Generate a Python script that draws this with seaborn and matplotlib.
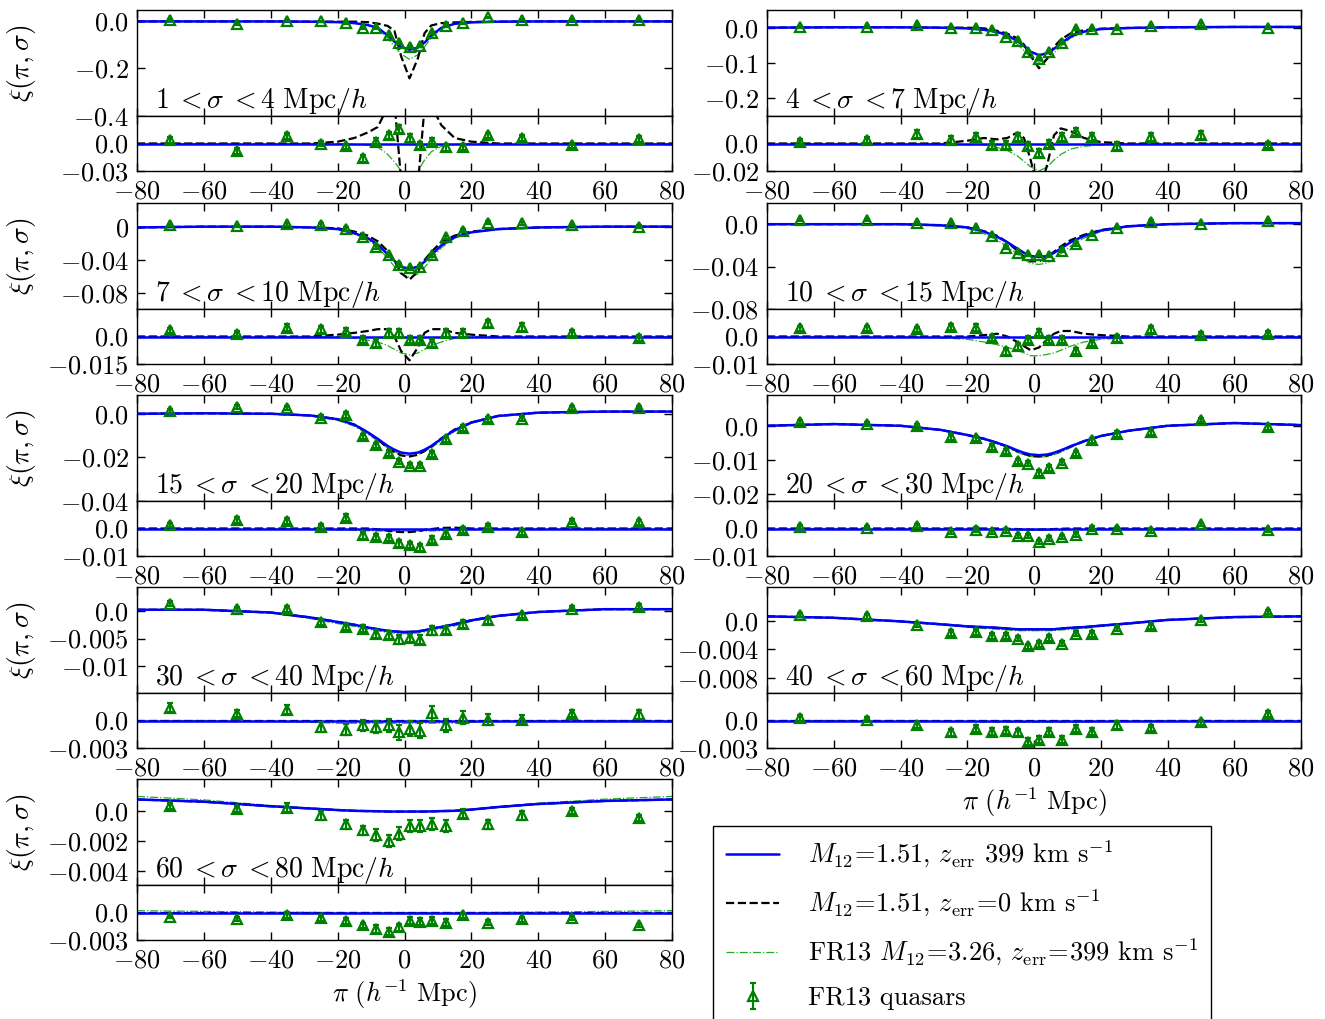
import numpy as np
import matplotlib
matplotlib.use("Agg")
import matplotlib.pyplot as plt
import seaborn as sns
from matplotlib.lines import Line2D

gx = [-80, -60, -40, -28, -20, -15, -11, -8, -5, -3, -1, 1.5, 4, 6, 8, 11, 15, 20, 28, 40, 60, 80]
# pi of the FR13 quasar points
pi_data = [-70, -50, -35, -25, -17.5, -12.5, -8.5, -4.75, -1.75, 1.5, 4.5, 8.25, 12.5, 17.5, 25, 35, 50, 70]
xticks = [-80, -60, -40, -20, 0, 20, 40, 60, 80]
xticklabels = ["-80", "-60", "-40", "-20", "0", "20", "40", "60", "80"]

# --- 1 < sigma < 4
blue_s1 = [-0.003, -0.003, -0.003, -0.004, -0.006, -0.010, -0.018, -0.030, -0.062, -0.088, -0.110, -0.122,
           -0.113, -0.092, -0.062, -0.030, -0.013, -0.007, -0.004, -0.003, -0.003, -0.003]
dres_s1 = [0, 0, 0, 0, 0.002, 0.006, 0.012, 0.018, 0.040, 0.045, -0.040, -0.120,
           -0.045, 0.040, 0.042, 0.020, 0.006, 0.002, 0, 0, 0, 0]
fres_s1 = [0, 0, 0, 0, 0, -0.001, -0.002, -0.004, -0.012, -0.020, -0.030, -0.040,
           -0.030, -0.018, -0.009, -0.003, -0.001, 0, 0, 0, 0, 0]
qso_s1 = [0.003, -0.014, 0.0, -0.003, -0.011, -0.032, -0.030, -0.060, -0.094, -0.112, -0.108, -0.052,
          -0.022, -0.011, 0.014, 0.005, 0.003, 0.005]
qres_s1 = [0.004, -0.008, 0.008, 0.0, -0.003, -0.016, 0.002, 0.009, 0.016, 0.006, -0.002, 0.002,
           -0.004, -0.004, 0.009, 0.006, -0.002, 0.005]
err_s1 = [0.003, 0.003, 0.003, 0.003, 0.003, 0.004, 0.004, 0.004, 0.004, 0.004, 0.004, 0.004,
          0.004, 0.003, 0.003, 0.003, 0.003, 0.003]

# --- 4 < sigma < 7
blue_s2 = [0.0, 0.001, 0.001, 0.0, -0.002, -0.006, -0.012, -0.021, -0.038, -0.052, -0.068, -0.078,
           -0.072, -0.060, -0.045, -0.025, -0.011, -0.004, -0.001, 0.001, 0.002, 0.002]
dres_s2 = [0, 0, 0, 0, 0.002, 0.004, 0.003, 0.004, 0.008, 0.004, -0.012, -0.037,
           -0.015, 0.006, 0.011, 0.009, 0.004, 0.001, 0, 0, 0, 0]
fres_s2 = [0, 0, 0, 0, -0.001, -0.001, -0.003, -0.005, -0.009, -0.013, -0.017, -0.020,
           -0.017, -0.012, -0.008, -0.004, -0.002, -0.001, 0, 0, 0, 0]
qso_s2 = [0.002, 0.002, 0.007, 0.0, -0.002, -0.007, -0.026, -0.037, -0.069, -0.088, -0.069, -0.044,
          -0.005, -0.005, -0.005, 0.005, 0.009, -0.002]
qres_s2 = [0.001, 0.0025, 0.007, 0.0025, 0.005, -0.001, -0.001, 0.005, -0.002, -0.007, -0.0005, 0.005,
           0.0085, 0.005, -0.002, 0.005, 0.006, -0.001]
err_s2 = [0.002, 0.002, 0.003, 0.003, 0.003, 0.003, 0.003, 0.003, 0.003, 0.003, 0.003, 0.003,
          0.003, 0.003, 0.003, 0.003, 0.003, 0.002]

# --- 7 < sigma < 10
blue_s3 = [0.0, 0.001, 0.001, 0.0, -0.002, -0.007, -0.013, -0.021, -0.033, -0.041, -0.048, -0.051,
           -0.048, -0.042, -0.034, -0.022, -0.012, -0.006, -0.002, 0.0, 0.001, 0.001]
dres_s3 = [0, 0, 0, 0, 0.001, 0.002, 0.003, 0.004, 0.004, 0.0, -0.008, -0.013,
           -0.006, 0.002, 0.004, 0.004, 0.002, 0.001, 0, 0, 0, 0]
fres_s3 = [0, 0, 0, 0, 0, -0.001, -0.002, -0.003, -0.005, -0.007, -0.009, -0.010,
           -0.009, -0.007, -0.005, -0.003, -0.001, 0, 0, 0, 0, 0]
qso_s3 = [0.003, 0.002, 0.004, 0.003, -0.002, -0.012, -0.024, -0.034, -0.046, -0.050, -0.048, -0.034,
          -0.012, -0.004, 0.006, 0.005, 0.003, 0.001]
qres_s3 = [0.0033, 0.0015, 0.0048, 0.0039, 0.0026, -0.0017, -0.0035, 0.002, 0.002, -0.0017, -0.0017, -0.0035,
           0.002, 0.002, 0.0072, 0.0052, 0.002, -0.0007]
err_s3 = [0.0015, 0.0015, 0.002, 0.002, 0.002, 0.002, 0.002, 0.002, 0.002, 0.002, 0.002, 0.002,
          0.002, 0.002, 0.002, 0.002, 0.0015, 0.0015]

# --- 10 < sigma < 15
blue_s4 = [0.0, 0.0, 0.0, -0.001, -0.003, -0.007, -0.012, -0.017, -0.023, -0.027, -0.030, -0.031,
           -0.030, -0.027, -0.023, -0.017, -0.011, -0.006, -0.002, 0.0, 0.001, 0.001]
dres_s4 = [0, 0, 0, 0, 0, 0.0005, 0.001, 0.0, -0.002, -0.0035, -0.005, -0.004,
           -0.001, 0.001, 0.002, 0.002, 0.001, 0.0005, 0, 0, 0, 0]
fres_s4 = [0, 0, 0, -0.0005, -0.001, -0.002, -0.003, -0.004, -0.005, -0.006, -0.007, -0.007,
           -0.0065, -0.006, -0.005, -0.0035, -0.002, -0.001, -0.0005, 0, 0, 0]
qso_s4 = [0.004, 0.004, 0.001, 0.001, -0.0037, -0.011, -0.022, -0.027, -0.029, -0.029, -0.030, -0.025,
          -0.019, -0.010, -0.0037, 0.0025, 0.0003, 0.003]
qres_s4 = [0.003, 0.003, 0.0026, 0.0035, 0.0032, -0.0005, -0.0054, -0.0036, -0.0011, 0.0014, -0.0011, -0.0011,
           -0.0052, -0.0023, -0.0007, 0.0026, 0.0005, 0.001]
err_s4 = [0.001, 0.001, 0.001, 0.0012, 0.0012, 0.0012, 0.0012, 0.0012, 0.0012, 0.0012, 0.0012, 0.0012,
          0.0012, 0.0012, 0.0012, 0.0012, 0.001, 0.001]

# --- 15 < sigma < 20
blue_s5 = [0.0, 0.0002, 0.0, -0.0008, -0.0025, -0.005, -0.0085, -0.0115, -0.0148, -0.0165, -0.0178, -0.0183,
           -0.0178, -0.0165, -0.0148, -0.0115, -0.0075, -0.004, -0.001, 0.0005, 0.001, 0.001]
dres_s5 = [0, 0, 0, 0, 0, 0, 0, -0.0003, -0.0008, -0.0011, -0.0013, -0.0013,
           -0.001, -0.0005, -0.0002, 0.0002, 0.0003, 0, 0, 0, 0, 0]
fres_s5 = [0, 0, 0, -0.0002, -0.0005, -0.0007, -0.0008, -0.0009, -0.0009, -0.0009, -0.0009, -0.0009,
           -0.0009, -0.0009, -0.0009, -0.0008, -0.0006, -0.0004, -0.0002, 0, 0, 0]
qso_s5 = [0.0012, 0.0031, 0.0025, -0.0018, -0.0006, -0.0103, -0.0145, -0.018, -0.022, -0.0238, -0.0238, -0.0185,
          -0.0118, -0.0065, -0.0026, -0.0022, 0.0025, 0.0028]
qres_s5 = [0.0012, 0.0031, 0.0027, 0.0006, 0.004, -0.0025, -0.0031, -0.0035, -0.0054, -0.006, -0.0069, -0.004,
           -0.0019, -0.0006, 0.0006, -0.0012, 0.0025, 0.0022]
err_s5 = [0.0008, 0.001, 0.001, 0.0012, 0.0012, 0.0012, 0.0012, 0.0012, 0.0012, 0.0012, 0.0012, 0.0012,
          0.0012, 0.0012, 0.0012, 0.001, 0.001, 0.0008]

# --- 20 < sigma < 30
blue_s6 = [0.0, 0.0005, 0.0, -0.0012, -0.0027, -0.0038, -0.005, -0.006, -0.0072, -0.0079, -0.0084, -0.0086,
           -0.0084, -0.0079, -0.0072, -0.006, -0.0045, -0.003, -0.0015, 0.0, 0.0008, 0.0002]
dres_s6 = [0, 0, 0, 0, 0, 0, 0, -0.0001, -0.0002, -0.0003, -0.0004, -0.0004,
           -0.0003, -0.0002, -0.0001, 0, 0, 0, 0, 0, 0, 0]
fres_s6 = [0, 0, 0, 0, -0.0001, -0.0002, -0.0003, -0.0004, -0.0006, -0.0006, -0.0006, -0.0006,
           -0.0006, -0.0006, -0.0006, -0.0004, -0.0002, -0.0001, 0, 0, 0, 0]
qso_s6 = [0.001, 0.0005, -0.0002, -0.0033, -0.0037, -0.0062, -0.0075, -0.0104, -0.0111, -0.0138, -0.0123, -0.0108,
          -0.0081, -0.0043, -0.0024, -0.0019, 0.0017, -0.0005]
qres_s6 = [0.0006, 0.0003, 0.001, -0.0012, -0.0004, -0.0012, -0.0009, -0.0028, -0.0028, -0.005, -0.0037, -0.0031,
           -0.0022, 0.0, -0.0002, -0.001, 0.0015, -0.0007]
err_s6 = [0.0006, 0.0006, 0.0007, 0.0008, 0.0008, 0.0008, 0.0008, 0.0008, 0.0008, 0.0008, 0.0008, 0.0008,
          0.0008, 0.0008, 0.0008, 0.0007, 0.0006, 0.0006]

# --- 30 < sigma < 40
blue_s7 = [0.0002, 0.0002, -0.0003, -0.0012, -0.002, -0.0025, -0.003, -0.0033, -0.0036, -0.0037, -0.0038, -0.0038,
           -0.0037, -0.0035, -0.0032, -0.0029, -0.0024, -0.0017, -0.0009, -0.0002, 0.0003, 0.0003]
dres_s7 = [0, 0, 0, 0, 0, 0, 0, 0, 0, 0, 0, 0, 0, 0, 0, 0, 0, 0, 0, 0, 0, 0]
fres_s7 = [0, 0, -0.0001, -0.0002, -0.0003, -0.0003, -0.0003, -0.0003, -0.0003, -0.0003, -0.0003, -0.0003,
           -0.0003, -0.0003, -0.0003, -0.0003, -0.0003, -0.0002, -0.0001, 0, 0, 0]
qso_s7 = [0.0013, 0.0003, 0.0003, -0.002, -0.0029, -0.0032, -0.0042, -0.0043, -0.0051, -0.0049, -0.0052, -0.0035,
          -0.0035, -0.0024, -0.0017, -0.0008, 0.0004, 0.0007]
qres_s7 = [0.0014, 0.00075, 0.0012, -0.0007, -0.001, -0.0005, -0.0007, -0.0005, -0.0013, -0.0009, -0.0011, 0.0008,
           -0.0005, 0.0003, 0.0001, 0.0001, 0.00075, 0.0007]
err_s7 = [0.0005, 0.0004, 0.0005, 0.0005, 0.0006, 0.0006, 0.0007, 0.0007, 0.0008, 0.0008, 0.0008, 0.0008,
          0.0007, 0.0007, 0.0006, 0.0005, 0.0004, 0.0005]

# --- 40 < sigma < 60
blue_s8 = [0.0006, 0.0004, -0.0001, -0.0005, -0.0008, -0.0009, -0.001, -0.0011, -0.0012, -0.0012, -0.0012, -0.0012,
           -0.0012, -0.0012, -0.0011, -0.001, -0.0009, -0.0007, -0.0004, 0.0001, 0.0005, 0.0006]
dres_s8 = [0, 0, 0, 0, 0, 0, 0, 0, 0, 0, 0, 0, 0, 0, 0, 0, 0, 0, 0, 0, 0, 0]
fres_s8 = [0, 0, 0, -0.0001, -0.0001, -0.0002, -0.0002, -0.0002, -0.0002, -0.0002, -0.0002, -0.0002,
           -0.0002, -0.0002, -0.0002, -0.0002, -0.0002, -0.0001, -0.0001, 0, 0, 0]
qso_s8 = [0.0008, 0.0006, -0.0006, -0.0017, -0.0016, -0.0021, -0.0021, -0.0025, -0.0036, -0.0033, -0.0024, -0.0032,
          -0.0018, -0.0019, -0.0011, -0.0008, 0.0001, 0.0012]
qres_s8 = [0.0003, 0.0001, -0.0005, -0.0013, -0.0009, -0.0012, -0.0011, -0.0013, -0.0023, -0.0021, -0.0012, -0.0021,
           -0.0009, -0.0012, -0.0005, -0.0008, -0.0002, 0.0007]
err_s8 = [0.0003, 0.0003, 0.0003, 0.0004, 0.0004, 0.0004, 0.0004, 0.0004, 0.0004, 0.0004, 0.0004, 0.0004,
          0.0004, 0.0004, 0.0004, 0.0003, 0.0003, 0.0003]

# --- 60 < sigma < 80
blue_s9 = [0.00075, 0.0006, 0.0003, 0.00015, 0.00005, 0.0, -0.00002, -0.00003, -0.00005, -0.00005, -0.00005, -0.00005,
           -0.00005, -0.00005, -0.00004, -0.00002, 0.0, 0.00008, 0.00025, 0.00045, 0.00065, 0.00075]
dres_s9 = [0, 0, 0, 0, 0, 0, 0, 0, 0, 0, 0, 0, 0, 0, 0, 0, 0, 0, 0, 0, 0, 0]
fres_s9 = [0.0002, 0.00012, 0.00005, 0.00002, 0, 0, 0, 0, 0, 0, 0, 0,
           0, 0, 0, 0, 0, 0, 0.00002, 0.00005, 0.00012, 0.0002]
qso_s9 = [0.0003, 0.0001, 0.0002, -0.0003, -0.0009, -0.0013, -0.0016, -0.002, -0.0015, -0.001, -0.001, -0.0009,
          -0.001, -0.0002, -0.0009, -0.0003, 0.0, -0.0005]
qres_s9 = [-0.00045, -0.0007, -0.00026, -0.0006, -0.0009, -0.0014, -0.0018, -0.0021, -0.0016, -0.0009, -0.001, -0.0009,
           -0.0011, -0.0003, -0.0011, -0.00075, -0.0006, -0.0014]
err_s9 = [0.0002, 0.0002, 0.0003, 0.0003, 0.0003, 0.0003, 0.0004, 0.0004, 0.0004, 0.0004, 0.0004, 0.0004,
          0.0004, 0.0003, 0.0003, 0.0003, 0.0002, 0.0002]

# panel labels and axis ranges / ticks
bin_labels = [r"$1\;{<}\sigma\;{<}4\ \mathrm{Mpc}/h$", r"$4\;{<}\sigma\;{<}7\ \mathrm{Mpc}/h$",
              r"$7\;{<}\sigma\;{<}10\ \mathrm{Mpc}/h$", r"$10\;{<}\sigma\;{<}15\ \mathrm{Mpc}/h$",
              r"$15\;{<}\sigma\;{<}20\ \mathrm{Mpc}/h$", r"$20\;{<}\sigma\;{<}30\ \mathrm{Mpc}/h$",
              r"$30\;{<}\sigma\;{<}40\ \mathrm{Mpc}/h$", r"$40\;{<}\sigma\;{<}60\ \mathrm{Mpc}/h$",
              r"$60\;{<}\sigma\;{<}80\ \mathrm{Mpc}/h$"]
main_ylims = [(-0.4, 0.045), (-0.25, 0.05), (-0.1, 0.03), (-0.08, 0.02), (-0.04, 0.0086),
              (-0.022, 0.009), (-0.0148, 0.0043), (-0.0101, 0.0047), (-0.0049, 0.0021)]
main_yticks = [[0.0, -0.2, -0.4], [0.0, -0.1, -0.2], [0.0, -0.04, -0.08], [0.0, -0.04, -0.08], [0.0, -0.02, -0.04],
               [0.0, -0.01, -0.02], [0.0, -0.005, -0.01], [0.0, -0.004, -0.008], [0.0, -0.002, -0.004]]
main_yticklabels = [["0.0", "-0.2", "-0.4"], ["0.0", "-0.1", "-0.2"], ["0", "-0.04", "-0.08"],
                    ["0.0", "-0.04", "-0.08"], ["0.0", "-0.02", "-0.04"], ["0.0", "-0.01", "-0.02"],
                    ["0.0", "-0.005", "-0.01"], ["0.0", "-0.004", "-0.008"], ["0.0", "-0.002", "-0.004"]]
res_lims = [0.03, 0.02, 0.015, 0.01, 0.01, 0.01, 0.003, 0.003, 0.003]
res_ticklabels = [["0.0", "-0.03"], ["0.0", "-0.02"], ["0.0", "-0.015"], ["0.0", "-0.01"], ["0.0", "-0.01"],
                  ["0.0", "-0.01"], ["0.0", "-0.003"], ["0.0", "-0.003"], ["0.0", "-0.003"]]

blues = [blue_s1, blue_s2, blue_s3, blue_s4, blue_s5, blue_s6, blue_s7, blue_s8, blue_s9]
dress = [dres_s1, dres_s2, dres_s3, dres_s4, dres_s5, dres_s6, dres_s7, dres_s8, dres_s9]
fress = [fres_s1, fres_s2, fres_s3, fres_s4, fres_s5, fres_s6, fres_s7, fres_s8, fres_s9]
qsos = [qso_s1, qso_s2, qso_s3, qso_s4, qso_s5, qso_s6, qso_s7, qso_s8, qso_s9]
qress = [qres_s1, qres_s2, qres_s3, qres_s4, qres_s5, qres_s6, qres_s7, qres_s8, qres_s9]
errs = [err_s1, err_s2, err_s3, err_s4, err_s5, err_s6, err_s7, err_s8, err_s9]

sns.set_style("ticks")
plt.rcParams["font.family"] = ["cmr10", "DejaVu Serif"]
plt.rcParams["mathtext.fontset"] = "cm"
plt.rcParams["axes.formatter.use_mathtext"] = True
plt.rcParams["axes.edgecolor"] = "black"
plt.rcParams["text.color"] = "black"
plt.rcParams["axes.labelcolor"] = "black"
plt.rcParams["xtick.color"] = "black"
plt.rcParams["ytick.color"] = "black"

GREEN = "#008000"
FS = 19

W, H = 1325, 1019
fig = plt.figure(figsize=(W / 100, H / 100), dpi=100)

col_x = [137, 767]
col_w = [535, 534]
row_top = [10, 203, 395, 587, 779]


def mtx(s):
    return "$" + s + "$"


errcont = None
for i in range(9):
    col = i % 2
    row = i // 2
    x0 = col_x[col] / W
    w = col_w[col] / W
    top = row_top[row]
    ax = fig.add_axes([x0, 1 - (top + 106) / H, w, 106 / H])
    rx = fig.add_axes([x0, 1 - (top + 161) / H, w, 55 / H])

    blue = np.array(blues[i])
    dres = np.array(dress[i])
    fres = np.array(fress[i])

    # main panel
    sns.lineplot(x=gx, y=blue + fres, ax=ax, color="#22aa22", lw=0.9, linestyle="-.", sort=False, estimator=None)
    sns.lineplot(x=gx, y=blue + dres, ax=ax, color="black", lw=1.6, linestyle="--", sort=False, estimator=None)
    sns.lineplot(x=gx, y=blue, ax=ax, color="#0000ff", lw=1.8, sort=False, estimator=None)
    errcont = ax.errorbar(pi_data, qsos[i], yerr=errs[i], fmt="^", mfc="none", mec=GREEN, ecolor=GREEN,
                          ms=7, mew=1.6, elinewidth=1.5, capsize=2.5, capthick=1.5, zorder=5)

    # residual panel
    sns.lineplot(x=gx, y=fres, ax=rx, color="#22aa22", lw=0.9, linestyle="-.", sort=False, estimator=None)
    sns.lineplot(x=gx, y=dres, ax=rx, color="black", lw=1.6, linestyle="--", sort=False, estimator=None)
    sns.lineplot(x=gx, y=blue - blue, ax=rx, color="#0000ff", lw=1.8, sort=False, estimator=None)
    rx.errorbar(pi_data, qress[i], yerr=errs[i], fmt="^", mfc="none", mec=GREEN, ecolor=GREEN,
                ms=7, mew=1.6, elinewidth=1.5, capsize=2.5, capthick=1.5, zorder=5)

    for a in (ax, rx):
        a.set_xlim(-80, 80)
        a.set_xticks(xticks)
        a.tick_params(direction="in", top=True, right=True, length=6, width=1, labelsize=FS, pad=6)
        a.set_xlabel("")
        a.set_ylabel("")
        for s in a.spines.values():
            s.set_linewidth(1.0)
    ax.tick_params(labelbottom=False)
    rx.set_xticklabels([mtx(t) for t in xticklabels])

    ax.set_ylim(*main_ylims[i])
    ax.set_yticks(main_yticks[i])
    ax.set_yticklabels([mtx(t) for t in main_yticklabels[i]])
    rl = res_lims[i]
    rx.set_ylim(-rl, rl)
    rx.set_yticks([0.0, -rl])
    rx.set_yticklabels([mtx(t) for t in res_ticklabels[i]])

    ax.text(0.034, 0.075, bin_labels[i], transform=ax.transAxes, fontsize=FS + 1, ha="left", va="baseline")
    if col == 0:
        ax.set_ylabel(r"$\xi(\pi,\sigma)$", fontsize=FS + 1)
        ax.yaxis.set_label_coords(-0.185, 0.5)
    if i == 7 or i == 8:
        rx.set_xlabel(r"$\pi\ (h^{-1}\ \mathrm{Mpc})$", fontsize=FS, labelpad=4)

handles = [Line2D([], [], color="#0000ff", lw=1.8),
           Line2D([], [], color="black", lw=1.6, linestyle="--"),
           Line2D([], [], color="#22aa22", lw=0.9, linestyle="-."),
           errcont]
labels = [r"$M_{12}\!=\!1.51$, $z_{\rm err}$ 399 km s$^{-1}$",
          r"$M_{12}\!=\!1.51$, $z_{\rm err}\!=\!0$ km s$^{-1}$",
          r"FR13 $M_{12}\!=\!3.26$, $z_{\rm err}\!=\!399$ km s$^{-1}$",
          "FR13 quasars"]
leg = fig.legend(handles, labels, loc="upper left", bbox_to_anchor=(713 / W, 1 - 826 / H), fontsize=FS,
                 frameon=True, fancybox=False, edgecolor="black", framealpha=1, borderaxespad=0,
                 handlelength=2.0, handletextpad=1.1, labelspacing=0.68, borderpad=0.5)
leg.get_frame().set_linewidth(1.0)

fig.savefig("out.png", dpi=100)
